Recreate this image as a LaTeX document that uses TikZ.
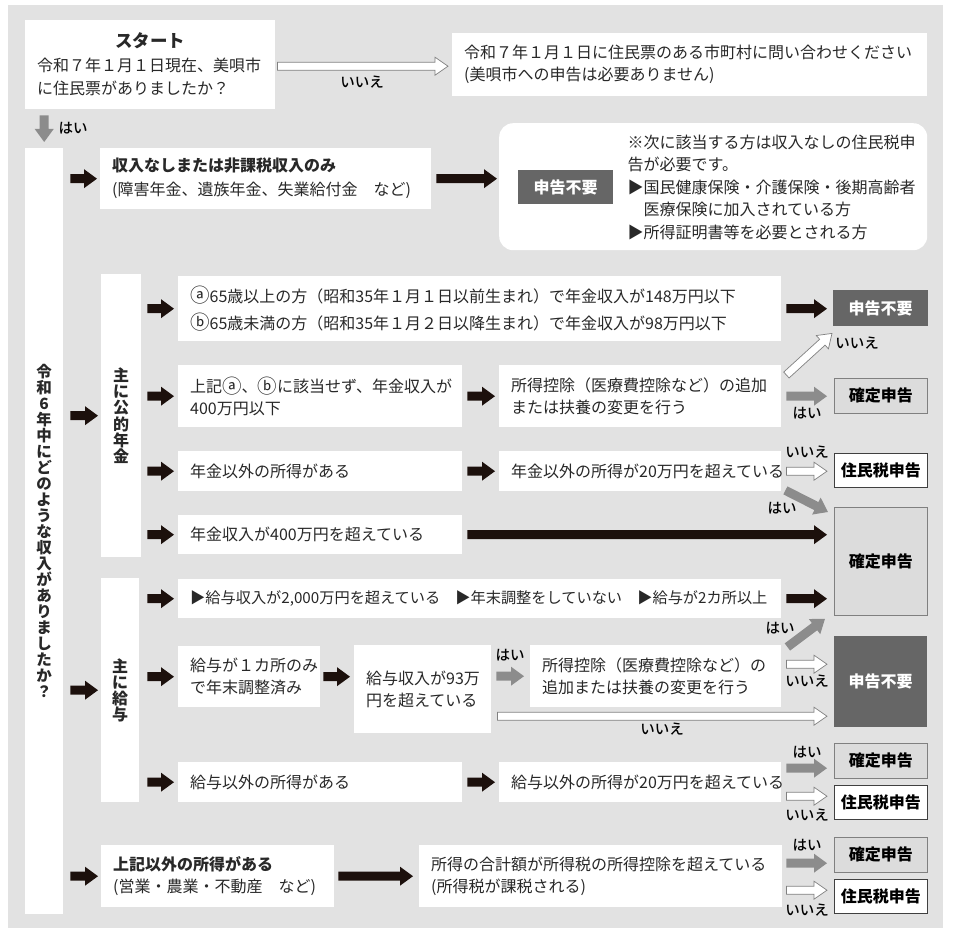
\documentclass[tikz,border=0pt]{standalone}
\usepackage{fontspec}
\setmainfont{Noto Sans CJK JP}
\newfontfamily\medfont{Noto Sans CJK JP Medium}
\usetikzlibrary{calc}
\usetikzlibrary{positioning}
\definecolor{bggray}{RGB}{226,226,226}
\definecolor{darkbox}{RGB}{102,102,102}
\definecolor{lightbox}{RGB}{220,220,220}
\definecolor{boxline}{RGB}{128,128,128}
\definecolor{arrowblack}{RGB}{28,16,12}
\definecolor{arrowgray}{RGB}{140,140,140}
\definecolor{textgray}{RGB}{40,40,40}
\newcommand{\ca}{\raisebox{-0.6pt}{\fontsize{19.5}{22}\selectfont ⓐ}}
\newcommand{\cb}{\raisebox{-0.6pt}{\fontsize{19.5}{22}\selectfont ⓑ}}
\tikzset{
  box/.style={fill=white, anchor=north west, inner xsep=12pt, inner ysep=0pt,
    align=left, text=textgray, font=\fontsize{16}{22}\selectfont},
  sz/.style 2 args={minimum width=#1pt, minimum height=#2pt, text width=#1pt-24pt},
  rsz/.style 2 args={minimum width=#1pt, minimum height=#2pt},
  tate/.style={fill=white, anchor=north west, inner sep=0pt, align=center,
    text=textgray, font=\fontsize{16}{16.2}\selectfont\bfseries},
  res/.style={anchor=north west, inner sep=0pt, align=center,
    font=\fontsize{16}{18}\selectfont\bfseries},
  resno/.style={res, fill=darkbox, text=white},
  reskaku/.style={res, fill=lightbox, draw=boxline, line width=0.8pt, text=black},
  resjumin/.style={res, fill=white, draw=black!75, line width=0.8pt, text=black},
  lbl/.style={inner sep=0pt, text=black, font=\fontsize{14.5}{14.5}\selectfont\medfont},
  blockarrow/.style n args={3}{to path={
    let \p1=(\tikztostart), \p2=(\tikztotarget),
        \n1={veclen(\x2-\x1,\y2-\y1)}, \n2={atan2(\y2-\y1,\x2-\x1)} in
    [shift={(\p1)}, rotate=\n2]
    (0pt,-#1) -- ({\n1-#3},-#1) -- ({\n1-#3},-#2) -- ({\n1*1pt},0pt)
    -- ({\n1-#3},#2) -- ({\n1-#3},#1) -- (0pt,#1) -- cycle}},
  blackarrow/.style={fill=arrowblack, blockarrow={4.5pt}{9.5pt}{13pt}},
  grayarrow/.style={fill=arrowgray, blockarrow={4.5pt}{9.5pt}{13pt}},
  openarrow/.style={draw=boxline, line width=0.7pt, fill=white, blockarrow={4pt}{9pt}{13pt}},
}
\begin{document}
\begin{tikzpicture}[x=1pt, y=-1pt]
  \useasboundingbox (0,0) rectangle (954,933);
  \fill[bggray] (8,5) rectangle (943,928);

  % start
  \node[box, sz={250}{89}, font=\fontsize{16}{23.5}\selectfont] (start) at (25,20)
    {\makebox[226pt]{\fontsize{17.5}{22}\selectfont\bfseries スタート}\\
     令和７年１月１日現在、美唄市\\に住民票がありましたか？};
  \node[box, sz={475}{63}] (other) at (452,33)
    {令和７年１月１日に住民票のある市町村に問い合わせください\\(美唄市への申告は必要ありません)};

  \node[tate, rsz={38}{766}, font=\fontsize{15.5}{16}\selectfont\bfseries] (q) at (25,148)
    {令\\和\\6\\年\\中\\に\\ど\\の\\よ\\う\\な\\収\\入\\が\\あ\\り\\ま\\し\\た\\か\\？};

  % no income
  \node[box, sz={331}{61}, font=\fontsize{16}{24}\selectfont] (none) at (100,148)
    {{\bfseries 収入なしまたは非課税収入のみ}\\(障害年金、遺族年金、失業給付金　など)};
  \node[fill=white, rounded corners=14pt, anchor=north west, rsz={428}{127}] (note) at (499,123) {};
  \node[resno, rsz={95}{34}] (nodecl0) at (518,170) {申告不要};
  \node[right=14pt of nodecl0, inner sep=0pt, align=left, text=textgray,
    font=\fontsize{16}{22.5}\selectfont] (notetext)
    {※次に該当する方は収入なしの住民税申\\告が必要です。\\▶国民健康保険・介護保険・後期高齢者\\
     　医療保険に加入されている方\\▶所得証明書等を必要とされる方};

  % pension
  \node[tate, rsz={40}{283}] (pen) at (101,274) {主\\に\\公\\的\\年\\金};
  \node[box, sz={603}{65}, font=\fontsize{16}{27}\selectfont] (pa) at (178,276)
    {\ca 65歳以上の方（昭和35年１月１日以前生まれ）で年金収入が148万円以下\\
     \cb 65歳未満の方（昭和35年１月２日以降生まれ）で年金収入が98万円以下};
  \node[box, sz={284}{62}] (pb1) at (178,365) {上記\ca、\cb に該当せず、年金収入が\\400万円以下};
  \node[box, sz={282}{62}] (pb2) at (499,365) {所得控除（医療費控除など）の追加\\または扶養の変更を行う};
  \node[box, sz={284}{40}] (pc1) at (178,451) {年金以外の所得がある};
  \node[box, sz={282}{40}] (pc2) at (499,451) {年金以外の所得が20万円を超えている};
  \node[box, sz={284}{39}] (pd) at (178,515) {年金収入が400万円を超えている};

  \node[resno, rsz={95}{36}] (rNo1) at (833,290) {申告不要};
  \node[reskaku, rsz={93}{35}] (rKb) at (834,378) {確定申告};
  \node[resjumin, rsz={93}{34}] (rJc) at (834,453) {住民税申告};
  \node[reskaku, rsz={93}{108}] (rKbig) at (834,507) {確定申告};

  % salary
  \node[tate, rsz={38}{224}] (sal) at (101,578) {主\\に\\給\\与};
  \node[box, sz={603}{39}, font=\fontsize{15.2}{22}\selectfont] (se) at (178,579)
    {▶給与収入が2,000万円を超えている　▶年末調整をしていない　▶給与が2カ所以上};
  \node[box, sz={142}{61}] (sf1) at (178,646) {給与が１カ所のみ\\で年末調整済み};
  \node[box, sz={137}{88}] (sf2) at (354,645) {給与収入が93万\\円を超えている};
  \node[box, sz={251}{62}] (sf3) at (530,645) {所得控除（医療費控除など）の\\追加または扶養の変更を行う};
  \node[box, sz={284}{40}] (sg1) at (178,762) {給与以外の所得がある};
  \node[box, sz={282}{40}] (sg2) at (499,762) {給与以外の所得が20万円を超えている};

  \node[resno, rsz={93}{91}] (rNo2) at (834,636) {申告不要};
  \node[reskaku, rsz={93}{35}] (rKc) at (834,743) {確定申告};
  \node[resjumin, rsz={93}{34}] (rJd) at (834,785) {住民税申告};

  % other income
  \node[box, sz={233}{62}, inner xsep=11pt] (oth1) at (101,845)
    {{\bfseries 上記以外の所得がある}\\(営業・農業・不動産　など)};
  \node[box, sz={363}{62}, inner xsep=11pt] (oth2) at (419,845)
    {所得の合計額が所得税の所得控除を超えている\\(所得税が課税される)};
  \node[reskaku, rsz={93}{35}] (rKe) at (834,837) {確定申告};
  \node[resjumin, rsz={93}{34}] (rJe) at (834,879) {住民税申告};

  % connectors
  \path[openarrow] ($(start.east)+(2,1.5)$) to ($(other.west |- start.east)+(-4,1.5)$);
  \path[grayarrow] ($(q.north |- start.south)+(0,6)$) to ($(q.north)+(0,-6)$);
  \foreach \s in {none,pen,sal,oth1}
    \path[blackarrow] ($(q.east |- \s.west)+(7,0)$) to ($(\s.west)+(-3,0)$);
  \foreach \r in {pa,pb1,pc1,pd}
    \path[blackarrow] ($(pen.east |- \r.west)+(6,0)$) to ($(\r.west)+(-4,0)$);
  \foreach \r in {se,sf1,sg1}
    \path[blackarrow] ($(sal.east |- \r.west)+(8,0)$) to ($(\r.west)+(-4,0)$);
  \foreach \a/\b in {pb1/pb2,pc1/pc2,sg1/sg2}
    \path[blackarrow] ($(\a.east)+(5,0)$) to ($(\b.west)+(-4,0)$);
  \path[blackarrow] ($(none.east)+(5,0)$) to ($(note.west |- none.east)+(-2,0)$);
  \path[blackarrow] ($(pa.east)+(5,0)$) to ($(rNo1.west |- pa.east)+(-6,0)$);
  \path[blackarrow] ($(pd.east)+(5,0)$) to ($(rKbig.west |- pd.east)+(-7,0)$);
  \path[blackarrow] ($(se.east)+(5,0)$) to ($(rKbig.west |- se.east)+(-7,0)$);
  \path[blackarrow] ($(sf1.east)+(3,0)$) to ($(sf2.west |- sf1.east)+(-4,0)$);
  \path[blackarrow] ($(oth1.east)+(4,0)$) to ($(oth2.west)+(-6,0)$);

  \path[grayarrow] ($(pb2.east)+(5,0)$) to ($(rKb.west |- pb2.east)+(-7,0)$);
  \path[grayarrow] ($(pc2.south east)+(4,-1)$) to ($(rKbig.north west)+(-6,5)$);
  \path[grayarrow] ($(sf2.east |- sf3.west)+(5,0)$) to ($(sf3.west)+(-6,0)$);
  \path[grayarrow] ($(sf3.north east)+(6,2)$) to ($(rKbig.south west)+(-9,3)$);
  \path[grayarrow] ($(sg2.east)+(5,-14)$) to ($(rKc.west |- sg2.east)+(-7,-14)$);
  \path[grayarrow] ($(oth2.east)+(4,-13)$) to ($(rKe.west |- oth2.east)+(-7,-13)$);

  \path[openarrow] ($(pb2.north east)+(5,10)$) to ($(rNo1.south west)+(-1,7)$);
  \path[openarrow] ($(pc2.east)+(5,0)$) to ($(rJc.west |- pc2.east)+(-7,0)$);
  \path[openarrow] ($(sf3.east)+(5,-12)$) to ($(rNo2.west |- sf3.east)+(-7,-12)$);
  \path[openarrow] ($(sf2.east)+(6,27)$) to ($(rNo2.west |- sf2.east)+(-7,27)$);
  \path[openarrow] ($(sg2.east)+(5,14)$) to ($(rJd.west |- sg2.east)+(-7,14)$);
  \path[openarrow] ($(oth2.east)+(4,14)$) to ($(rJe.west |- oth2.east)+(-7,14)$);

  % labels
  \node[lbl] (lnoStart) at (362,82) {いいえ};
  \node[lbl] (lyesStart) at (73,128) {はい};
  \node[lbl] (lno1) at (857,343) {いいえ};
  \node[lbl] (lyes1) at (807,413) {はい};
  \node[lbl] (lno2) at (807,452) {いいえ};
  \node[lbl] (lyes2) at (782,508) {はい};
  \node[lbl] (lyes3) at (780,628) {はい};
  \node[lbl] (lyes4) at (510,655) {はい};
  \node[lbl] (lno3) at (807,681) {いいえ};
  \node[lbl] (lno4) at (662,729) {いいえ};
  \node[lbl] (lyes5) at (807,752) {はい};
  \node[lbl] (lno5) at (807,815) {いいえ};
  \node[lbl] (lyes6) at (807,845) {はい};
  \node[lbl] (lno6) at (807,910) {いいえ};
\end{tikzpicture}
\end{document}
